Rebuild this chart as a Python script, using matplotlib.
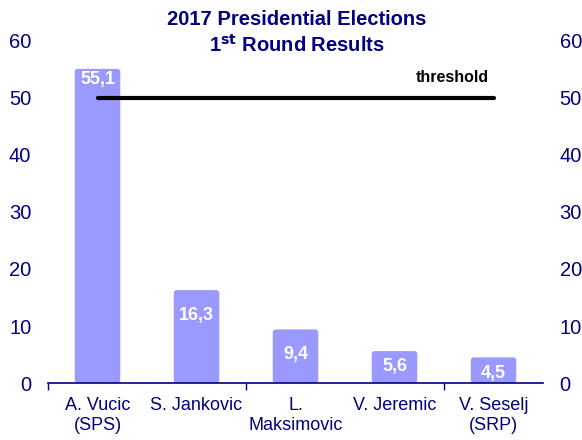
import matplotlib
matplotlib.use("Agg")
import matplotlib.pyplot as plt
from matplotlib.patches import FancyBboxPatch

plt.rcParams['font.family'] = ['Liberation Sans', 'DejaVu Sans']

# First round results, % of votes
candidates = ['A. Vucic\n(SPS)', 'S. Jankovic', 'L.\nMaksimovic', 'V. Jeremic', 'V. Seselj\n(SRP)']
votes = [55.1, 16.3, 9.4, 5.6, 4.5]
value_labels = ['55,1', '16,3', '9,4', '5,6', '4,5']
threshold = 50

navy = '#000080'
bar_color = '#9999FF'

fig = plt.figure(figsize=(5.82, 4.40), dpi=100)
ax = fig.add_axes([0.0825, 0.1295, 0.8505, 0.7775])

x = list(range(len(candidates)))
bars = ax.bar(x, votes, width=0.46, color=bar_color, zorder=2)

# swap the plain rectangles for slightly rounded ones
for b in bars:
    b.set_visible(False)
    rb = FancyBboxPatch((b.get_x(), b.get_y()), b.get_width(), b.get_height(),
                        boxstyle='round,pad=0,rounding_size=0.03',
                        mutation_aspect=17.3, facecolor=bar_color,
                        edgecolor='none', zorder=2)
    ax.add_patch(rb)

# value labels inside the bar tops
label_drop = [8, 18, 18, 11, 11.5]
for xi, v, txt, d in zip(x, votes, value_labels, label_drop):
    ax.annotate(txt, (xi, v), xytext=(0, -d), textcoords='offset points',
                ha='center', va='center', color='white', fontsize=13,
                fontweight='bold', zorder=3)

# 50% threshold line
ax.plot([x[0], x[-1]], [threshold, threshold], color='black', lw=3,
        solid_capstyle='round', zorder=4)
ax.text(x[-1] - 0.05, threshold + 3.5, 'threshold', ha='right', va='center',
        fontsize=11.5, fontweight='bold', color='black')

ax.set_xlim(-0.5, len(candidates) - 0.5)
ax.set_ylim(0, 60)
ax.set_yticks(range(0, 61, 10))

for s in ['top', 'left', 'right']:
    ax.spines[s].set_visible(False)
ax.spines['bottom'].set_color(navy)
ax.spines['bottom'].set_linewidth(1.2)
ax.spines['bottom'].set_zorder(5)

ax.set_xticks(x)
ax.set_xticklabels(candidates, fontsize=13, color=navy, linespacing=1.2)
ax.set_xticks([-0.5, 1.5, 3.5], minor=True)
ax.tick_params(axis='x', which='major', length=0, pad=10)
ax.tick_params(axis='x', which='minor', length=5, width=1, color=navy, direction='out')
ax.tick_params(axis='y', length=0, labelsize=14.5, labelcolor=navy,
               labelleft=True, labelright=True, pad=12)

fig.suptitle('2017 Presidential Elections\n1$^{\\mathbf{st}}$ Round Results',
             x=0.51, y=0.978, fontsize=14.5, fontweight='bold', color=navy,
             linespacing=1.3)

fig.savefig('out.png', dpi=100)
